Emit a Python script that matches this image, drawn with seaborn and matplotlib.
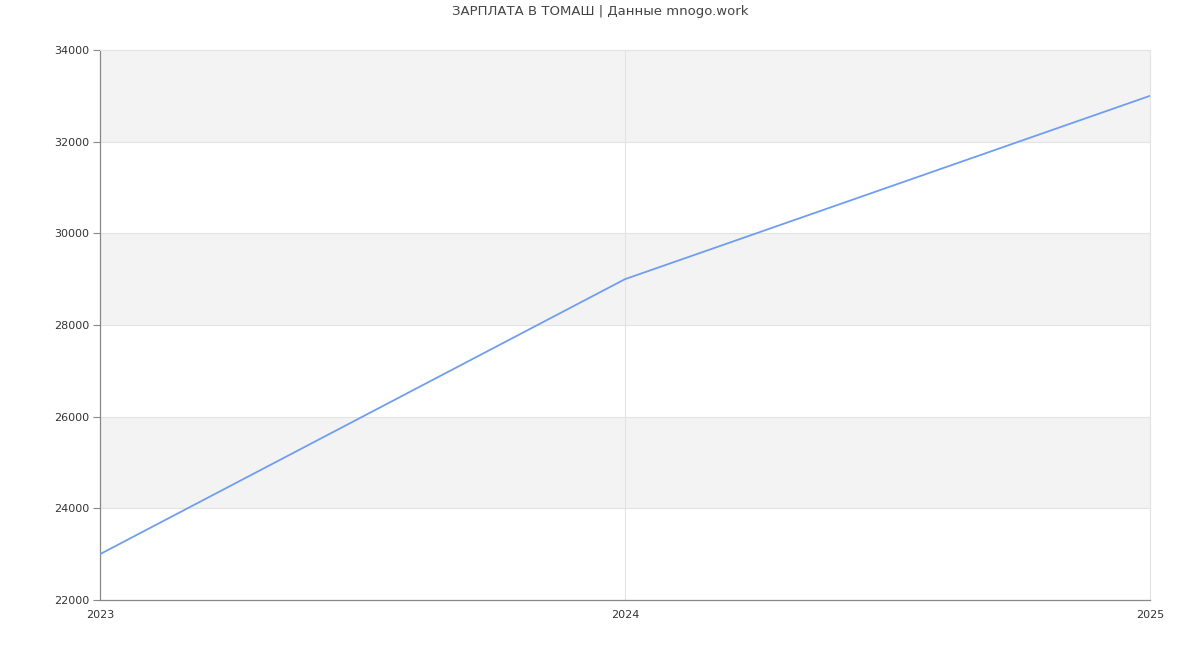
import numpy as np
import pandas as pd
import seaborn as sns
import matplotlib.pyplot as plt

years = [2023, 2024, 2025]
salary = [23000, 29000, 33000]
y_ticks = [22000, 24000, 26000, 28000, 30000, 32000, 34000]

sns.set_theme(style="white")
plt.rcParams['font.family'] = ['DejaVu Sans']

df = pd.DataFrame({"year": years, "salary": salary})

fig = plt.figure(figsize=(12, 6.5), dpi=100)
ax = fig.add_axes([100 / 1200, 50 / 650, 1050 / 1200, 550 / 650])

# alternating bands
for i in range(len(y_ticks) - 1):
    if (len(y_ticks) - 2 - i) % 2 == 0:
        ax.axhspan(y_ticks[i], y_ticks[i + 1], color="#f3f3f3", zorder=0, lw=0)

sns.lineplot(data=df, x="year", y="salary", color="#6f9ef0", linewidth=1.3, ax=ax, zorder=3)

ax.set_xlim(years[0], years[-1])
ax.set_ylim(y_ticks[0], y_ticks[-1])
ax.set_xticks(years)
ax.set_xticklabels([str(y) for y in years])
ax.set_yticks(y_ticks)
ax.set_yticklabels([str(t) for t in y_ticks])
ax.grid(True, color="#e3e3e3", linewidth=0.8, zorder=1)
ax.set_axisbelow(True)
ax.set_xlabel("")
ax.set_ylabel("")

ax.tick_params(axis="y", which="major", left=True, length=5, width=0.8, color="#888888",
               labelsize=8, labelcolor="#333333", pad=3)
ax.tick_params(axis="x", which="major", bottom=False, labelsize=8, labelcolor="#333333", pad=1)

for s in ["left", "bottom"]:
    ax.spines[s].set_color("#888888")
    ax.spines[s].set_linewidth(0.9)
for s in ["top", "right"]:
    ax.spines[s].set_color("#e3e3e3")
    ax.spines[s].set_linewidth(0.8)

fig.text(0.5, 1 - 12 / 650, "ЗАРПЛАТА В ТОМАШ | Данные mnogo.work", ha="center", va="center",
         fontsize=9.5, color="#444444")

fig.savefig("out.png", dpi=100)
